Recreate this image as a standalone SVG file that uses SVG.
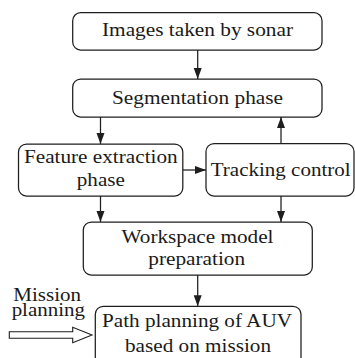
<svg xmlns="http://www.w3.org/2000/svg" width="355" height="358" viewBox="0 0 355 358">
  <style>
    .box { fill: #ffffff; stroke: #1e1e1e; stroke-width: 1.25; }
    .lbl { font-size: 19px; fill: #1a1a1a; text-anchor: middle; }
    .wire { fill: none; stroke: #1e1e1e; stroke-width: 1.25; marker-end: url(#head); }
    .hollow { fill: #ffffff; stroke: #1e1e1e; stroke-width: 1.1; stroke-linejoin: miter; }
  </style>
  <defs>
    <marker id="head" markerUnits="userSpaceOnUse" markerWidth="12" markerHeight="9" refX="11" refY="4" orient="auto">
      <path d="M0,0 L11,4 L0,8 Z" fill="#1e1e1e"/>
    </marker>
  </defs>
  <rect width="355" height="358" fill="#ffffff"/>

  <g id="connectors">
    <line class="wire" x1="197.7" y1="50" x2="197.7" y2="79"/>
    <line class="wire" x1="100.5" y1="117" x2="100.5" y2="144"/>
    <line class="wire" x1="281" y1="143.5" x2="281" y2="117"/>
    <line class="wire" x1="183" y1="170" x2="206" y2="170"/>
    <line class="wire" x1="100.5" y1="196" x2="100.5" y2="222"/>
    <line class="wire" x1="281" y1="196" x2="281" y2="222"/>
    <line class="wire" x1="197.7" y1="275" x2="197.7" y2="306.3"/>
    <!-- hollow input arrow feeding the path planning box -->
    <path class="hollow" d="M9.3,331.7 L72.7,331.7 L72.7,327.3 L92,335 L72.7,342.7 L72.7,338.3 L9.3,338.3 Z"/>
  </g>

  <g font-family="Liberation Serif, Times New Roman, DejaVu Serif, serif">
    <g id="images">
      <rect class="box" x="72.7" y="12.7" width="249.3" height="37.3" rx="8"/>
      <text class="lbl" x="197.5" y="36" textLength="191" lengthAdjust="spacingAndGlyphs">Images taken by sonar</text>
    </g>

    <g id="segmentation">
      <rect class="box" x="72.7" y="79" width="249.3" height="38" rx="8"/>
      <text class="lbl" x="197.5" y="104" textLength="171" lengthAdjust="spacingAndGlyphs">Segmentation phase</text>
    </g>

    <g id="feature">
      <rect class="box" x="18.5" y="144" width="164.3" height="52" rx="8"/>
      <text class="lbl" x="100.8" y="162.7" textLength="153.7" lengthAdjust="spacingAndGlyphs">Feature extraction</text>
      <text class="lbl" x="100.8" y="186" textLength="48" lengthAdjust="spacingAndGlyphs">phase</text>
    </g>

    <g id="tracking">
      <rect class="box" x="206" y="143.5" width="148" height="52.5" rx="8"/>
      <text class="lbl" x="280.7" y="175.5" textLength="140" lengthAdjust="spacingAndGlyphs">Tracking control</text>
    </g>

    <g id="workspace">
      <rect class="box" x="83.3" y="222" width="229" height="53" rx="8"/>
      <text class="lbl" x="197.5" y="243" textLength="152" lengthAdjust="spacingAndGlyphs">Workspace model</text>
      <text class="lbl" x="196.7" y="264.7" textLength="96.7" lengthAdjust="spacingAndGlyphs">preparation</text>
    </g>

    <g id="path-planning">
      <rect class="box" x="95.3" y="306.3" width="205.7" height="60" rx="8"/>
      <text class="lbl" x="197" y="326.7" textLength="190" lengthAdjust="spacingAndGlyphs">Path planning of AUV</text>
      <text class="lbl" x="198" y="351.7" textLength="146" lengthAdjust="spacingAndGlyphs">based on mission</text>
    </g>

    <g id="mission">
      <text class="lbl" x="47.2" y="300.5" textLength="67.7" lengthAdjust="spacingAndGlyphs">Mission</text>
      <text class="lbl" x="48.3" y="315.7" textLength="73.3" lengthAdjust="spacingAndGlyphs">planning</text>
    </g>
  </g>
</svg>
